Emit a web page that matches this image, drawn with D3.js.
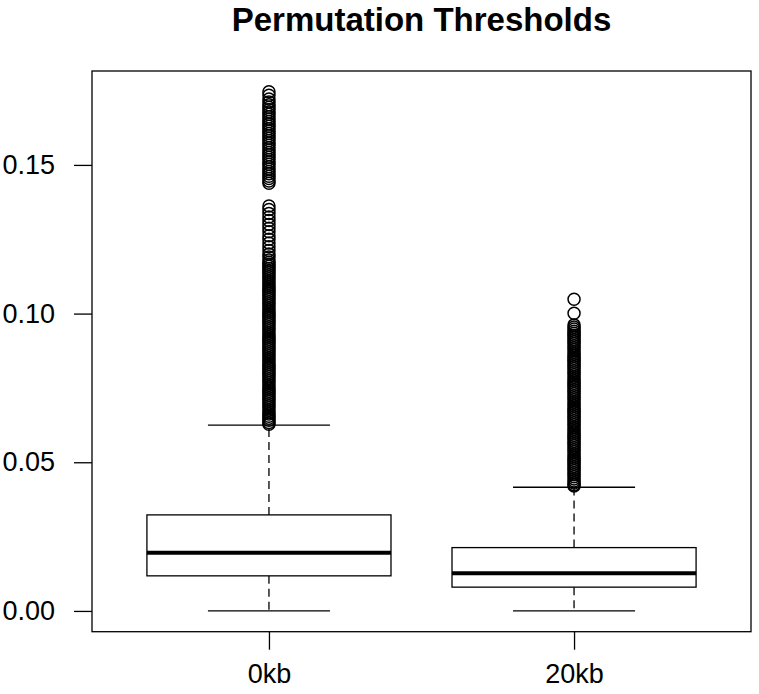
<!DOCTYPE html>
<html>
  <head>
    <meta charset="utf-8">
    <title>Permutation Thresholds</title>
    <style>
      body { margin: 0; background: #fff; font-family: "Liberation Sans", Arial, sans-serif; }
      .axis text { font-size: 27px; fill: #000; }
      .axis path, .axis line { stroke: #000; stroke-width: 1.3px; }
      .title { font-size: 33px; font-weight: bold; }
    </style>
  </head>
  <body>
    <script src="https://d3js.org/d3.v7.min.js"></script>
    <script>
    // group labels
    var groups = ["0kb", "20kb"];

    // box stats: lower whisker, Q1, median, Q3, upper whisker
    var lowerWhisker = [0.0000, 0.0000];
    var q1 = [0.0118, 0.0080];
    var median = [0.0196, 0.0127];
    var q3 = [0.0323, 0.0213];
    var upperWhisker = [0.0625, 0.0416];

    // outliers (the black bands are packed with points)
    var outliers0kb = [0.1746, 0.1734, 0.1722, 0.1712, 0.1702, 0.1694, 0.1686, 0.1678, 0.1670, 0.1662, 0.1654,
      0.1646, 0.1638, 0.1630, 0.1622, 0.1614, 0.1606, 0.1598, 0.1590, 0.1582, 0.1574, 0.1566, 0.1558,
      0.1550, 0.1542, 0.1534, 0.1526, 0.1518, 0.1510, 0.1502, 0.1494, 0.1486, 0.1478, 0.1470, 0.1462,
      0.1454, 0.1446, 0.1438,
      0.1362, 0.1350, 0.1337, 0.1325, 0.1313, 0.1300, 0.1287, 0.1275, 0.1262, 0.1250, 0.1237, 0.1225,
      0.1212, 0.1200, 0.1190,
      0.1180, 0.1173, 0.1166, 0.1159, 0.1152, 0.1145, 0.1138, 0.1131, 0.1124, 0.1117, 0.1110, 0.1103,
      0.1096, 0.1089, 0.1082, 0.1075, 0.1068, 0.1061, 0.1054, 0.1047, 0.1040, 0.1033, 0.1026, 0.1019,
      0.1012, 0.1005, 0.0998, 0.0991, 0.0984, 0.0977, 0.0970, 0.0963, 0.0956, 0.0949, 0.0942, 0.0935,
      0.0928, 0.0921, 0.0914, 0.0907, 0.0900, 0.0893, 0.0886, 0.0879, 0.0872, 0.0865, 0.0858, 0.0851,
      0.0844, 0.0837, 0.0830, 0.0823, 0.0816, 0.0809, 0.0802, 0.0795, 0.0788, 0.0781, 0.0774, 0.0767,
      0.0760, 0.0753, 0.0746, 0.0739, 0.0732, 0.0725, 0.0718, 0.0711, 0.0704, 0.0697, 0.0690, 0.0683,
      0.0676, 0.0669, 0.0662, 0.0655, 0.0648, 0.0641, 0.0634, 0.0628];
    var outliers20kb = [0.1048, 0.1001, 0.0962,
      0.0955, 0.0948, 0.0941, 0.0934, 0.0927, 0.0920, 0.0913, 0.0906, 0.0899, 0.0892, 0.0885, 0.0878,
      0.0871, 0.0864, 0.0857, 0.0850, 0.0843, 0.0836, 0.0829, 0.0822, 0.0815, 0.0808, 0.0801, 0.0794,
      0.0787, 0.0780, 0.0773, 0.0766, 0.0759, 0.0752, 0.0745, 0.0738, 0.0731, 0.0724, 0.0717, 0.0710,
      0.0703, 0.0696, 0.0689, 0.0682, 0.0675, 0.0668, 0.0661, 0.0654, 0.0647, 0.0640, 0.0633, 0.0626,
      0.0619, 0.0612, 0.0605, 0.0598, 0.0591, 0.0584, 0.0577, 0.0570, 0.0563, 0.0556, 0.0549, 0.0542,
      0.0535, 0.0528, 0.0521, 0.0514, 0.0507, 0.0500, 0.0493, 0.0486, 0.0479, 0.0472, 0.0465, 0.0458,
      0.0451, 0.0444, 0.0437, 0.0430, 0.0424, 0.0420];
    var outliers = [outliers0kb, outliers20kb];

    var yTicks = [0, 0.05, 0.10, 0.15];

    var W = 759, H = 694;
    var plot = {left: 92, right: 751, top: 71, bottom: 631.7};

    var svg = d3.select("body").append("svg")
        .attr("width", W)
        .attr("height", H);

    // R style 4% extension of the data range
    var ymin = d3.min(lowerWhisker), ymax = d3.max(outliers, function(o) { return d3.max(o); });
    var pad = (ymax - ymin) * 0.04;

    var y = d3.scaleLinear()
        .domain([ymin - pad, ymax + pad])
        .range([plot.bottom, plot.top]);

    var x = d3.scaleLinear()
        .domain([0.42, groups.length + 0.58])
        .range([plot.left, plot.right]);

    var boxHalf = 0.4, capHalf = 0.2;

    // frame
    svg.append("rect")
        .attr("x", plot.left).attr("y", plot.top)
        .attr("width", plot.right - plot.left)
        .attr("height", plot.bottom - plot.top)
        .attr("fill", "none").attr("stroke", "#000").attr("stroke-width", 1.3);

    // axes
    var yAxis = d3.axisLeft(y)
        .tickValues(yTicks)
        .tickFormat(d3.format(".2f"))
        .tickSize(18)
        .tickPadding(19);

    svg.append("g")
        .attr("class", "y axis")
        .attr("transform", "translate(" + plot.left + ",0)")
        .call(yAxis)
        .call(function(g) { g.select(".domain").remove(); });

    var xAxis = d3.axisBottom(x)
        .tickValues(groups.map(function(d, i) { return i + 1; }))
        .tickFormat(function(d) { return groups[d - 1]; })
        .tickSize(18)
        .tickPadding(14);

    svg.append("g")
        .attr("class", "x axis")
        .attr("transform", "translate(0," + plot.bottom + ")")
        .call(xAxis)
        .call(function(g) { g.select(".domain").remove(); });

    // boxes
    var box = svg.selectAll("g.box")
        .data(groups)
        .enter().append("g")
        .attr("class", "box");

    box.each(function(d, i) {
      var g = d3.select(this), c = i + 1;

      // dashed whiskers
      g.append("line")
          .attr("x1", x(c)).attr("x2", x(c))
          .attr("y1", y(q3[i])).attr("y2", y(upperWhisker[i]))
          .attr("stroke", "#000").attr("stroke-width", 1.3).attr("stroke-dasharray", "8,5");
      g.append("line")
          .attr("x1", x(c)).attr("x2", x(c))
          .attr("y1", y(q1[i])).attr("y2", y(lowerWhisker[i]))
          .attr("stroke", "#000").attr("stroke-width", 1.3).attr("stroke-dasharray", "8,5");

      // caps
      [upperWhisker[i], lowerWhisker[i]].forEach(function(v) {
        g.append("line")
            .attr("x1", x(c - capHalf)).attr("x2", x(c + capHalf))
            .attr("y1", y(v)).attr("y2", y(v))
            .attr("stroke", "#000").attr("stroke-width", 1.3);
      });

      g.append("rect")
          .attr("x", x(c - boxHalf))
          .attr("y", y(q3[i]))
          .attr("width", x(c + boxHalf) - x(c - boxHalf))
          .attr("height", y(q1[i]) - y(q3[i]))
          .attr("fill", "#fff").attr("stroke", "#000").attr("stroke-width", 1.3);

      g.append("line")
          .attr("x1", x(c - boxHalf)).attr("x2", x(c + boxHalf))
          .attr("y1", y(median[i])).attr("y2", y(median[i]))
          .attr("stroke", "#000").attr("stroke-width", 4);

      g.selectAll("circle")
          .data(outliers[i])
          .enter().append("circle")
          .attr("cx", x(c))
          .attr("cy", function(v) { return y(v); })
          .attr("r", 6)
          .attr("fill", "none").attr("stroke", "#000").attr("stroke-width", 1.5);
    });

    svg.append("text")
        .attr("class", "title")
        .attr("x", (plot.left + plot.right) / 2)
        .attr("y", 31)
        .attr("text-anchor", "middle")
        .text("Permutation Thresholds");
    </script>
  </body>
</html>
